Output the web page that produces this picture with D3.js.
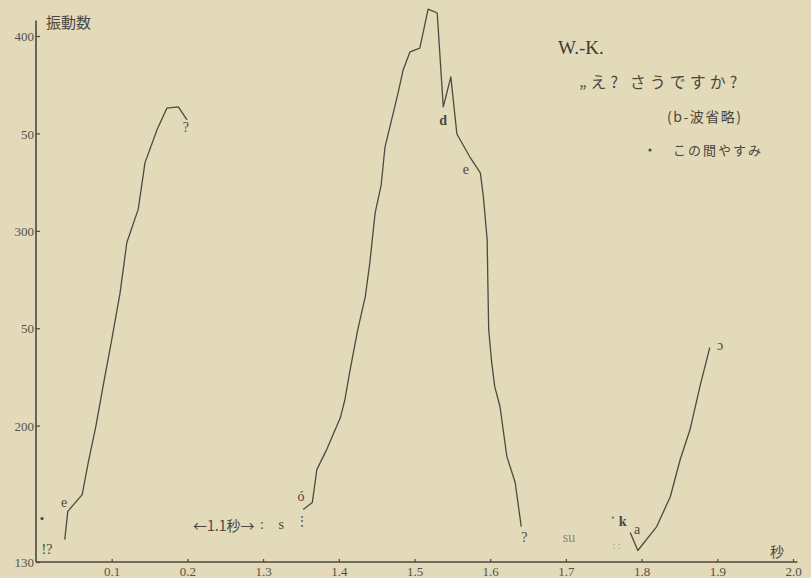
<!DOCTYPE html>
<html lang="ja">
<head>
<meta charset="UTF-8">
<title>W.-K. え? さうですか?</title>
<script src="https://d3js.org/d3.v7.min.js"></script>
<style>
  body { margin: 0; background: #e3dab9; }
  svg { display: block; }
  .serif { font-family: "Liberation Serif", "DejaVu Serif", serif; }
  .jp { font-family: "Noto Sans CJK JP", sans-serif; }
</style>
</head>
<body>
<div id="chart"></div>
<script>
const width = 811;
const height = 578;

// tick labels
const yTicks = [130, 200, 250, 300, 350, 400];
const xTicks = [0.1, 0.2, 1.3, 1.4, 1.5, 1.6, 1.7, 1.8, 1.9, 2.0];
// 1.1 s between 0.2 and 1.3 are left out (drawn as one interval)
const skipped = 1.0;

// pitch curves (seconds, vibrations per second)
const seg1Time = [0.038, 0.042, 0.061, 0.069, 0.079, 0.0885, 0.100, 0.111, 0.120, 0.135, 0.144, 0.160, 0.173, 0.188, 0.1995];
const seg1Freq = [141.5, 156, 164.6, 181, 199.5, 220, 244, 268, 294, 311, 335, 352, 363, 363.6, 357];

const seg2Time = [1.353, 1.365, 1.371, 1.384, 1.402, 1.408, 1.415, 1.425, 1.435, 1.441, 1.448, 1.456, 1.461, 1.472, 1.479, 1.485, 1.494, 1.507, 1.518, 1.530, 1.538, 1.548, 1.556, 1.573, 1.587, 1.591, 1.596, 1.597, 1.598, 1.602, 1.606, 1.613, 1.622, 1.633, 1.641];
const seg2Freq = [157, 160.5, 177.4, 187.7, 204, 213.3, 228.7, 249.2, 266.2, 283.6, 309.2, 323.6, 343, 360.5, 372, 382.6, 391.8, 393.8, 413.8, 411.8, 363.6, 379, 349.7, 338, 329.7, 317.4, 295.4, 271.3, 249.2, 232.3, 220, 209.7, 184.1, 170.8, 148.2];

const seg3Time = [1.785, 1.795, 1.820, 1.838, 1.851, 1.864, 1.877, 1.890];
const seg3Freq = [145.1, 135.9, 148.2, 163.6, 182.6, 198, 220, 240];

// sound annotations along the curves
const noteText = ["e", "!?", "?", "←1.1秒→", ":", "s", "ó", "⋮", "d", "e", "?", "su", "k", "a", "ɔ", "秒"];
const noteTime = [0.037, 0.0145, 0.198, 0.2480, 0.2985, 1.324, 1.350, 1.351, 1.538, 1.568, 1.645, 1.704, 1.775, 1.794, 1.9036, 1.979];
const noteFreq = [160.5, 136.4, 352.8, 149.2, 149.2, 149.2, 163.6, 150.8, 356.4, 331.3, 142.6, 142.6, 150.8, 146.7, 241, 135.4];

const effective = t => t < 1 ? t : t - skipped;

const svg = d3.select("#chart").append("svg")
    .attr("width", width)
    .attr("height", height);

svg.append("rect")
    .attr("width", width)
    .attr("height", height)
    .attr("fill", "#e3dab9");

const x = d3.scaleLinear().domain([0, 1.0]).range([36, 793]);
const y = d3.scaleLinear().domain([130, 400]).range([562, 36]);
const ink = "#4b473f";

// axes
const yAxis = d3.axisLeft(y)
    .tickValues(yTicks)
    .tickSizeInner(-4)
    .tickSizeOuter(0)
    .tickPadding(2)
    .tickFormat(d => (d === 250 || d === 350) ? "50" : d);

const xAxis = d3.axisBottom(x)
    .tickValues(xTicks.map(effective))
    .tickSizeInner(-3)
    .tickSizeOuter(0)
    .tickPadding(5)
    .tickFormat((d, i) => d3.format(".1f")(xTicks[i]));

const gy = svg.append("g")
    .attr("class", "serif")
    .attr("transform", `translate(${x(0)},0)`)
    .call(yAxis);
gy.select(".domain").remove();

const gx = svg.append("g")
    .attr("class", "serif")
    .attr("transform", `translate(0,${y(130)})`)
    .call(xAxis);
gx.select(".domain").remove();

svg.selectAll(".tick line").attr("stroke", ink).attr("stroke-width", 1.2);
svg.selectAll(".tick text")
    .attr("fill", "#55514a")
    .style("font-size", "13px")
    .style("font-family", "'Liberation Serif', serif");
gy.selectAll(".tick text").attr("dy", "0.36em");

// axis lines
svg.append("line")
    .attr("x1", x(0)).attr("x2", x(0))
    .attr("y1", y(408)).attr("y2", y(130))
    .attr("stroke", ink).attr("stroke-width", 1.6);
svg.append("line")
    .attr("x1", x(0)).attr("x2", x(1.006))
    .attr("y1", y(130)).attr("y2", y(130))
    .attr("stroke", ink).attr("stroke-width", 1.6);

svg.append("text")
    .attr("class", "jp")
    .attr("x", x(0) + 10)
    .attr("y", y(404))
    .attr("fill", "#4b473f")
    .style("font-size", "15px")
    .text("振動数");

// curves
const line = d3.line()
    .x(d => x(effective(d[0])))
    .y(d => y(d[1]));

const segments = [
    d3.zip(seg1Time, seg1Freq),
    d3.zip(seg2Time, seg2Freq),
    d3.zip(seg3Time, seg3Freq)
];

svg.append("g")
    .selectAll("path")
    .data(segments)
    .join("path")
    .attr("d", line)
    .attr("fill", "none")
    .attr("stroke", "#4e4a42")
    .attr("stroke-width", 1.3)
    .attr("stroke-linejoin", "round");

// annotations
svg.append("g")
    .selectAll("text")
    .data(d3.zip(noteText, noteTime, noteFreq))
    .join("text")
    .attr("x", d => x(effective(d[1])))
    .attr("y", d => y(d[2]))
    .attr("text-anchor", "middle")
    .attr("dominant-baseline", "central")
    .attr("fill", d => d[0] === "su" ? "#8a857a" : "#4b473f")
    .style("font-family", d => /[秒]/.test(d[0]) ? "'Noto Sans CJK JP', sans-serif" : "'Liberation Serif', serif")
    .style("font-size", d => d[0] === "⋮" ? "12px" : "14px")
    .style("font-weight", d => (d[0] === "k" || d[0] === "d") ? "bold" : "normal")
    .text(d => d[0]);

// small dots
svg.append("circle").attr("cx", x(0.008)).attr("cy", y(152.3)).attr("r", 1.6).attr("fill", ink);
svg.append("circle").attr("cx", x(effective(1.762))).attr("cy", y(152.8)).attr("r", 1.2).attr("fill", "#7a756a");
svg.append("text")
    .attr("x", x(effective(1.767))).attr("y", y(138.5))
    .attr("text-anchor", "middle").attr("dominant-baseline", "central")
    .attr("fill", "#9a9588").style("font-size", "10px")
    .text(": :");

// title block
svg.append("text")
    .attr("class", "serif")
    .attr("x", 558).attr("y", 54)
    .attr("fill", "#3f3b34")
    .style("font-size", "19px")
    .text("W.-K.");

svg.append("text")
    .attr("class", "jp")
    .attr("x", 579).attr("y", 88)
    .attr("fill", "#4b473f")
    .style("font-size", "16px")
    .style("letter-spacing", "4px")
    .text("„え? さうですか?");

svg.append("text")
    .attr("class", "jp")
    .attr("x", 667).attr("y", 122)
    .attr("fill", "#4b473f")
    .style("font-size", "14px")
    .style("letter-spacing", "1.5px")
    .text("(b-波省略)");

svg.append("circle").attr("cx", 650).attr("cy", 150).attr("r", 1.6).attr("fill", ink);
svg.append("text")
    .attr("class", "jp")
    .attr("x", 673).attr("y", 155)
    .attr("fill", "#4b473f")
    .style("font-size", "13px")
    .style("letter-spacing", "2px")
    .text("この間やすみ");
</script>
</body>
</html>
